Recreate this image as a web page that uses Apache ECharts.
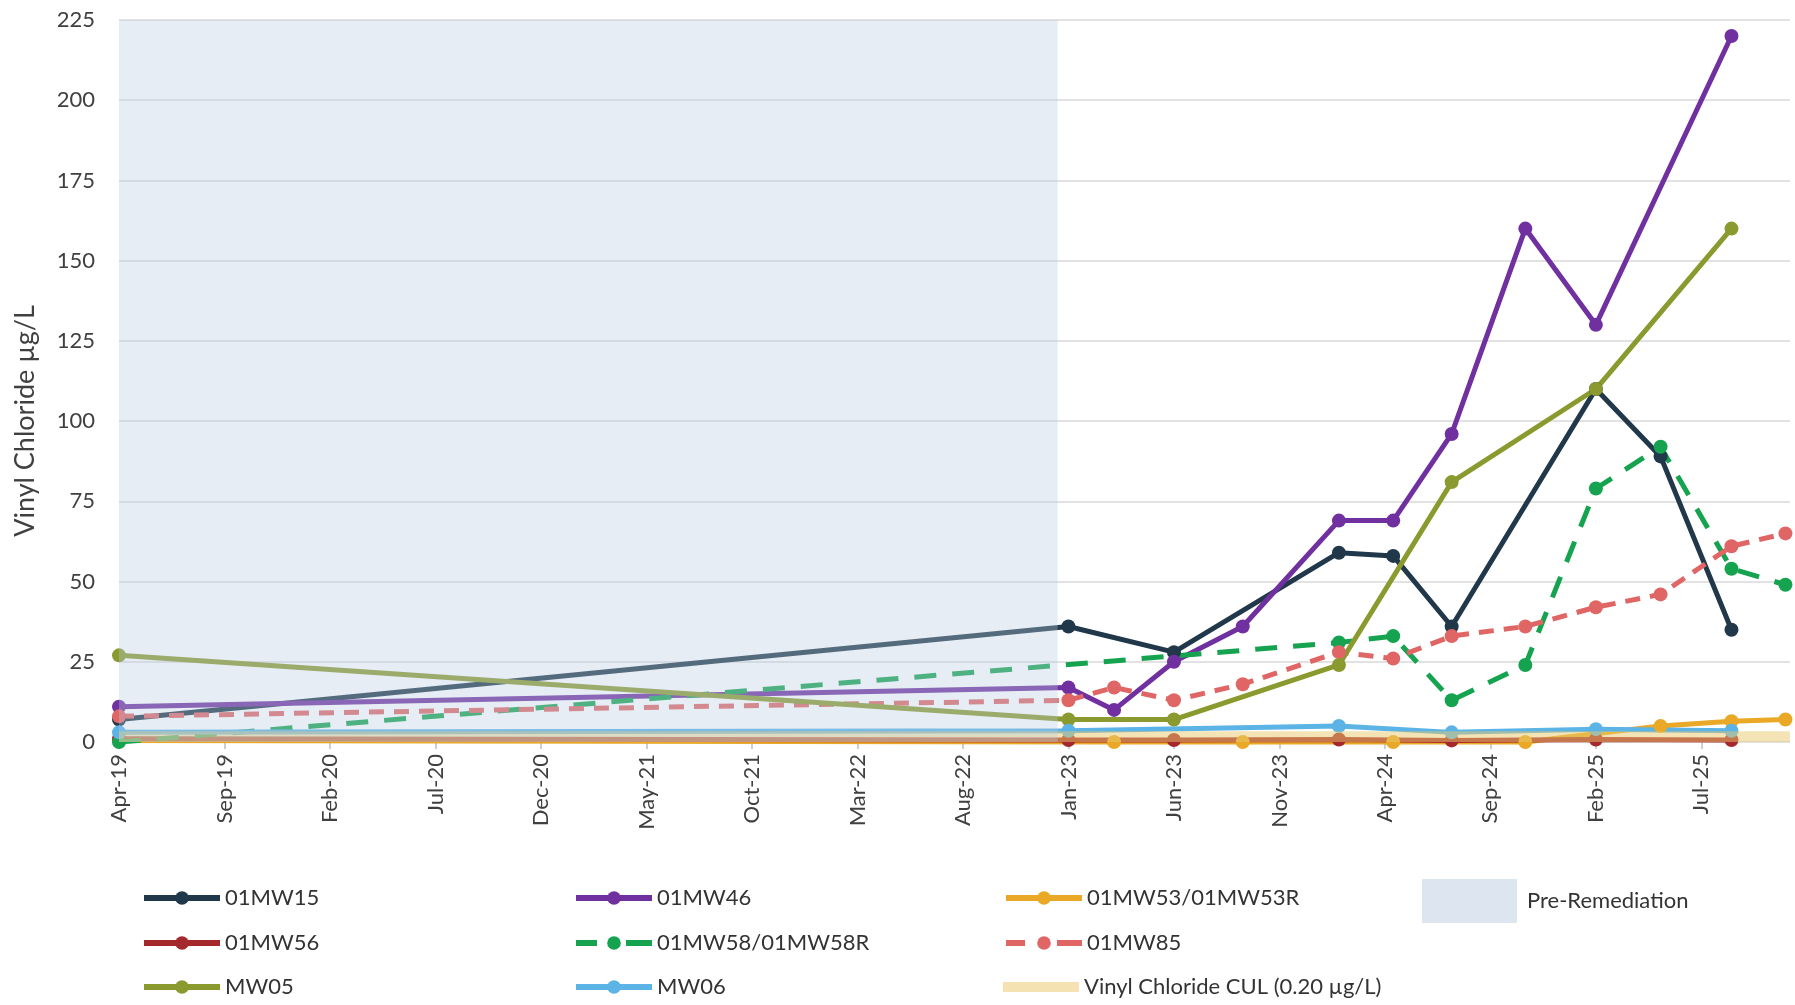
<!DOCTYPE html>
<html><head><meta charset="utf-8">
<script src="https://cdn.jsdelivr.net/npm/echarts@6/dist/echarts.min.js"></script>
<style>html,body{margin:0;padding:0;background:#fff}#c{width:1795px;height:1005px}</style>
</head><body><div id="c"></div>
<script>
// ---- data ----
const sampleDates = ['2019-04-01','2023-01-01','2023-03-06','2023-06-01','2023-09-09','2024-01-26','2024-04-13','2024-07-06','2024-10-21','2025-02-01','2025-05-03','2025-08-14','2025-10-31'];
const mw15  = [7,   36,  null, 28,  null, 59,  58,  36,  null, 110, 89,  35,  null];
const mw46  = [11,  17,  10,   25,  36,   69,  69,  96,  160,  130, null,220, null];
const mw53  = [0.5, null,0,    null,0,    null,0,   null,0,    null,5,   6.5, 7];
const mw56  = [1,   0.6, null, 0.6, null, 0.8, null,0.5, null, 0.8, null,0.6, null];
const mw58  = [0,   null,null, null,null, 31,  33,  13,  24,   79,  92,  54,  49];
const mw85  = [8,   13,  17,   13,  18,   28,  26,  33,  36,   42,  46,  61,  65];
const mw05  = [27,  7,   null, 7,   null, 24,  null,81,  null, 110, null,160, null];
const mw06  = [3,   3.5, null, null,null, 5,   null,3,   null, 4,   null,3.5, null];
const culValue = 0.2;
const culRange = ['2019-04-01','2025-11-07'];
const preRemediationRange = ['2019-04-01','2022-12-16'];
const xTickMonths = [0,5,10,15,20,25,30,35,40,45,50,55,60,65,70,75];
const monthNames = ['Jan','Feb','Mar','Apr','May','Jun','Jul','Aug','Sep','Oct','Nov','Dec'];

// ---- helpers ----
const toMonth = s => { const [y,m,d] = s.split('-').map(Number); return (y-2019)*12 + (m-4) + (d-1)/30.5; };
const fmtMonth = v => { const t = 3 + Math.round(v); const y = 2019 + Math.floor(t/12); return monthNames[t%12] + '-' + String(y%100).padStart(2,'0'); };
const pts = vals => sampleDates.map((d,i)=> vals[i]==null ? null : [toMonth(d), vals[i]]).filter(Boolean);
const FONT = 'Lato';

function lineSeries(name, vals, color, dash) {
  return {
    name, type:'line', data: pts(vals), z: 2, clip: false,
    symbol:'circle', symbolSize: 14, showSymbol: true,
    itemStyle:{color},
    lineStyle:{color, width:5, type: dash || 'solid', cap:'butt'},
    emphasis:{disabled:true}
  };
}

const series = [
  lineSeries('01MW15', mw15, '#20384a'),
  lineSeries('01MW46', mw46, '#7030a0'),
  lineSeries('01MW53/01MW53R', mw53, '#e9a825'),
  lineSeries('01MW56', mw56, '#a5282c'),
  lineSeries('01MW58/01MW58R', mw58, '#16a34f', [22,16]),
  lineSeries('01MW85', mw85, '#e06666', [15,10]),
  lineSeries('MW05', mw05, '#8b9a2f'),
  lineSeries('MW06', mw06, '#5cb3e6'),
  {
    name:'Vinyl Chloride CUL (0.20 µg/L)', type:'custom', z: 3, clip: true,
    itemStyle:{color:'#f4e2b2'},
    data:[[toMonth(culRange[0]), toMonth(culRange[1]), culValue]],
    encode:{x:[0,1], y:2},
    renderItem:(params, api) => {
      const p0 = api.coord([api.value(0), api.value(2)]);
      const p1 = api.coord([api.value(1), api.value(2)]);
      return {type:'line', shape:{x1:p0[0], y1:p0[1], x2:p1[0], y2:p1[1]},
        style:{stroke:'rgba(231,199,107,0.5)', lineWidth:20}};
    }
  },
  {
    name:'Pre-Remediation', type:'custom', z: 10,
    itemStyle:{color:'#dde6f0'},
    data:[[toMonth(preRemediationRange[0]), toMonth(preRemediationRange[1])]],
    encode:{x:[0,1]},
    renderItem:(params, api) => {
      const cs = params.coordSys;
      const xa = api.coord([api.value(0), 0])[0];
      const xb = api.coord([api.value(1), 0])[0];
      return {type:'rect', shape:{x:xa, y:cs.y, width:xb-xa, height:cs.height},
        style:{fill:'rgba(184,204,224,0.35)'}};
    }
  }
];

const legendText = {fontFamily:FONT, fontSize:22, color:'#333', lineHeight:26};
function lg(name, left, cy, extra) {
  return Object.assign({
    data:[name], left, top: cy - 13, itemWidth:76, itemHeight:17, selectedMode:false,
    textStyle: legendText, lineStyle:{width:6}, padding:0
  }, extra || {});
}
const legends = [
  lg('01MW15', 141, 898),
  lg('01MW46', 573, 898),
  lg('01MW53/01MW53R', 1003, 898),
  lg('Pre-Remediation', 1422, 901, {icon:'rect', itemWidth:95, itemHeight:44, top:879, textStyle:Object.assign({}, legendText, {padding:[0,0,0,5]})}),
  lg('01MW56', 141, 943),
  lg('01MW58/01MW58R', 573, 943, {lineStyle:{width:6, type:[21,29,26,100]}}),
  lg('01MW85', 1003, 943, {lineStyle:{width:6, type:[19,32,25,100]}}),
  lg('MW05', 141, 987),
  lg('MW06', 573, 987),
  lg('Vinyl Chloride CUL (0.20 µg/L)', 1003, 987, {icon:'rect', itemHeight:10})
];

const chart = echarts.init(document.getElementById('c'), null, {renderer:'canvas'});
chart.setOption({
  animation:false,
  backgroundColor:'#ffffff',
  grid:{left:119, right:5, top:20, bottom:263, containLabel:false},
  xAxis:{
    type:'value', min:0, max:79.2, interval:5,
    axisLine:{show:false},
    splitLine:{show:false},
    axisTick:{show:true, length:7, customValues:xTickMonths, lineStyle:{color:'#bfbfbf', width:1.5}},
    axisLabel:{customValues:xTickMonths, rotate:90, margin:12, formatter:fmtMonth,
      fontFamily:FONT, fontSize:22, color:'#404040'}
  },
  yAxis:{
    type:'value', min:0, max:225, interval:25,
    axisLine:{show:false}, axisTick:{show:false},
    splitLine:{show:true, lineStyle:{color:'#d9d9d9', width:1.5}},
    axisLabel:{margin:24, fontFamily:FONT, fontSize:22, color:'#404040'}
  },
  legend: legends,
  graphic:[{
    type:'text', x:25, y:421, rotation:Math.PI/2,
    style:{text:'Vinyl Chloride µg/L', fontFamily:FONT, fontSize:27, fill:'#404040', align:'center', verticalAlign:'middle'}
  }],
  series
});
</script>
</body></html>
